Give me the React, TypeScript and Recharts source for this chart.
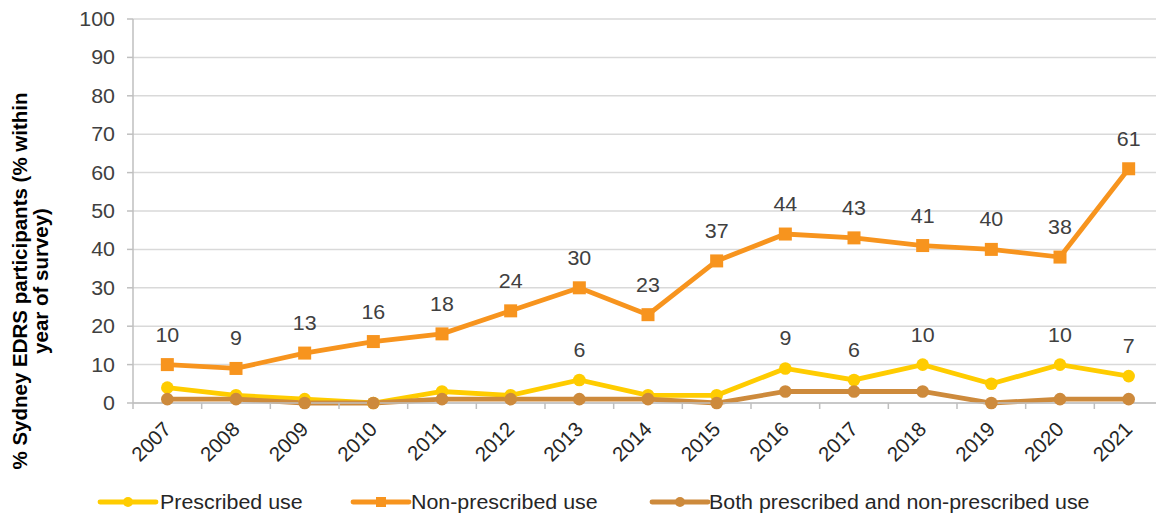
import React from 'react';
import {
  LineChart,
  Line,
  XAxis,
  YAxis,
  CartesianGrid,
  Legend,
  LabelList,
} from 'recharts';

// Survey years (categories)
const years = ['2007', '2008', '2009', '2010', '2011', '2012', '2013', '2014', '2015', '2016', '2017', '2018', '2019', '2020', '2021'];

// % of participants within year of survey
const prescribed = [4, 2, 1, 0, 3, 2, 6, 2, 2, 9, 6, 10, 5, 10, 7];
const nonPrescribed = [10, 9, 13, 16, 18, 24, 30, 23, 37, 44, 43, 41, 40, 38, 61];
const both = [1, 1, 0, 0, 1, 1, 1, 1, 0, 3, 3, 3, 0, 1, 1];

// Years where the prescribed-use value carries a data label
const prescribedLabelYears = ['2013', '2016', '2017', '2018', '2020', '2021'];

const yTicks = [0, 10, 20, 30, 40, 50, 60, 70, 80, 90, 100];

const seriesNames = {
  prescribed: 'Prescribed use',
  nonPrescribed: 'Non-prescribed use',
  both: 'Both prescribed and non-prescribed use',
};

const COLORS = {
  prescribed: '#FFCC00',
  nonPrescribed: '#F7941E',
  both: '#CD8A3C',
};

const FONT = '"Liberation Sans", Arial, sans-serif';
const AXIS_GREY = '#bfbfbf';
const GRID_GREY = '#d9d9d9';
const TEXT_GREY = '#404040';
const WIDEN = 1.07;

// Each year sits in the middle of its band on a numeric axis, so tick marks can fall on band edges
const data = years.map((year, i) => ({
  pos: i + 0.5,
  year,
  prescribed: prescribed[i],
  nonPrescribed: nonPrescribed[i],
  both: both[i],
  prescribedLabel: prescribedLabelYears.includes(year) ? prescribed[i] : null,
}));

const xTicks: number[] = [];
for (let i = 0; i <= years.length; i++) {
  xTicks.push(i);
  if (i < years.length) xTicks.push(i + 0.5);
}

// Horizontal text drawn slightly wide
const WideText = ({ x, y, anchor, fill, children }: any) => (
  <text
    transform={`translate(${x},${y}) scale(${WIDEN},1)`}
    x={0}
    y={0}
    dy="0.35em"
    textAnchor={anchor}
    fontFamily={FONT}
    fontSize={20}
    fill={fill}
  >
    {children}
  </text>
);

const XTick = (props: any) => {
  const { x, y, payload } = props;
  const v = payload.value as number;
  if (Number.isInteger(v)) {
    return <line x1={x} x2={x} y1={y} y2={y + 6} stroke={AXIS_GREY} strokeWidth={1.5} />;
  }
  const label = years[Math.floor(v)];
  return (
    <g transform={`translate(${x + 5},${y + 27.5}) rotate(-45)`}>
      <text x={0} y={0} textAnchor="end" fontFamily={FONT} fontSize={20.5} fill="#262626">
        {label}
      </text>
    </g>
  );
};

const YTick = (props: any) => {
  const { x, y, payload } = props;
  return (
    <WideText x={x} y={y} anchor="end" fill={TEXT_GREY}>
      {payload.value}
    </WideText>
  );
};

const ValueLabel = (props: any) => {
  const { x, y, value } = props;
  if (value === null || value === undefined) return null;
  return (
    <WideText x={x} y={y - 30} anchor="middle" fill={TEXT_GREY}>
      {value}
    </WideText>
  );
};

const SquareDot = (props: any) => {
  const { cx, cy, index } = props;
  if (cx == null || cy == null) return null;
  return <rect key={`sq-${index}`} x={cx - 6.5} y={cy - 6.5} width={13} height={13} fill={COLORS.nonPrescribed} />;
};

const AxisTitle = () => (
  <g>
    <text
      transform="translate(27,281) rotate(-90)"
      textAnchor="middle"
      fontFamily={FONT}
      fontSize={20.5}
      fontWeight="bold"
      fill="#000"
    >
      % Sydney EDRS participants (% within
    </text>
    <text
      transform="translate(48,281) rotate(-90)"
      textAnchor="middle"
      fontFamily={FONT}
      fontSize={20.5}
      fontWeight="bold"
      fill="#000"
    >
      year of survey)
    </text>
  </g>
);

const legendItems = [
  { key: 'prescribed', lineX: 100, textX: 160, marker: 'circle' },
  { key: 'nonPrescribed', lineX: 353, textX: 411, marker: 'square' },
  { key: 'both', lineX: 652, textX: 709, marker: 'circle' },
] as const;

const LegendContent = () => (
  <svg width={1156} height={30} style={{ display: 'block' }}>
    {legendItems.map((item) => {
      const color = COLORS[item.key];
      const mid = item.lineX + 28;
      return (
        <g key={item.key}>
          <line x1={item.lineX} x2={item.lineX + 56} y1={15} y2={15} stroke={color} strokeWidth={4.8} strokeLinecap="round" />
          {item.marker === 'circle' ? (
            <circle cx={mid} cy={15} r={5} fill={color} />
          ) : (
            <rect x={mid - 5} y={10} width={10} height={10} fill={color} />
          )}
          <WideText x={item.textX} y={15} anchor="start" fill="#262626">
            {seriesNames[item.key]}
          </WideText>
        </g>
      );
    })}
  </svg>
);

export default function App() {
  return (
    <div style={{ position: 'absolute', left: 0, top: 0, width: 1156, height: 515, overflow: 'hidden', background: '#fff' }}>
      <LineChart width={1170} height={515} data={data} margin={{ top: 19, right: 7, bottom: 42, left: 73 }}>
        <CartesianGrid vertical={false} stroke={GRID_GREY} strokeWidth={1.5} />
        <XAxis
          dataKey="pos"
          type="number"
          domain={[0, years.length]}
          ticks={xTicks}
          interval={0}
          tickLine={false}
          tickSize={0}
          tickMargin={0}
          height={40}
          axisLine={{ stroke: AXIS_GREY, strokeWidth: 1.5 }}
          tick={<XTick />}
        />
        <YAxis
          type="number"
          domain={[0, 100]}
          ticks={yTicks}
          interval={0}
          width={60}
          tickSize={6}
          tickMargin={12}
          tickLine={{ stroke: AXIS_GREY, strokeWidth: 1.5 }}
          axisLine={{ stroke: AXIS_GREY, strokeWidth: 1.5 }}
          tick={<YTick />}
          label={{ content: () => <AxisTitle /> }}
        />
        <Legend
          verticalAlign="bottom"
          content={() => <LegendContent />}
          wrapperStyle={{ position: 'absolute', left: 0, top: 487, width: 1156, height: 30 }}
        />
        <Line
          dataKey="prescribed"
          name={seriesNames.prescribed}
          stroke={COLORS.prescribed}
          strokeWidth={4.8}
          dot={{ r: 6.3, fill: COLORS.prescribed, stroke: 'none' }}
          activeDot={false}
          isAnimationActive={false}
        >
          <LabelList dataKey="prescribedLabel" content={<ValueLabel />} />
        </Line>
        <Line
          dataKey="nonPrescribed"
          name={seriesNames.nonPrescribed}
          stroke={COLORS.nonPrescribed}
          strokeWidth={4.8}
          dot={<SquareDot />}
          activeDot={false}
          isAnimationActive={false}
        >
          <LabelList dataKey="nonPrescribed" content={<ValueLabel />} />
        </Line>
        <Line
          dataKey="both"
          name={seriesNames.both}
          stroke={COLORS.both}
          strokeWidth={4.8}
          dot={{ r: 6.3, fill: COLORS.both, stroke: 'none' }}
          activeDot={false}
          isAnimationActive={false}
        />
      </LineChart>
    </div>
  );
}
